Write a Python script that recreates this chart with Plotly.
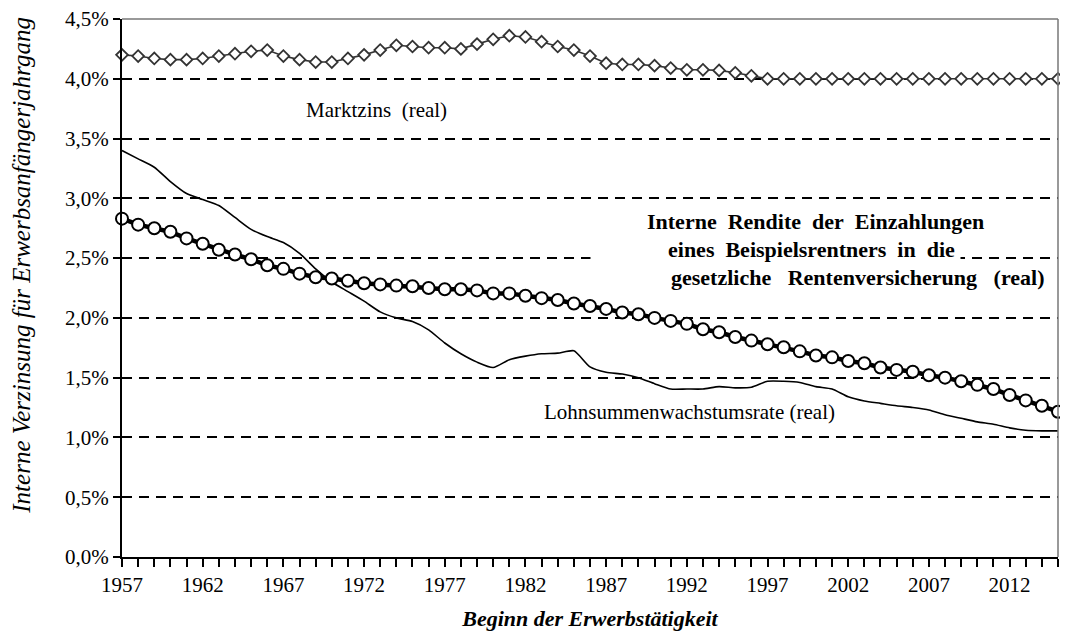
import plotly.graph_objects as go

years = list(range(1957, 2016))

marktzins = [4.20, 4.19, 4.17, 4.16, 4.16, 4.17, 4.19, 4.21, 4.23, 4.24,
             4.19, 4.16, 4.14, 4.14, 4.17, 4.20, 4.24, 4.28, 4.27, 4.26,
             4.26, 4.25, 4.29, 4.33, 4.36, 4.35, 4.31, 4.27, 4.24, 4.19,
             4.13, 4.12, 4.12, 4.11, 4.09, 4.075, 4.075, 4.07, 4.05, 4.025,
             4.00, 4.00, 4.00, 4.00, 4.00, 4.00, 4.00, 4.00, 4.00, 4.00,
             4.00, 4.00, 4.00, 4.00, 4.00, 4.00, 4.00, 4.00, 4.00]

rendite = [2.83, 2.78, 2.75, 2.72, 2.665, 2.62, 2.57, 2.53, 2.49, 2.44,
           2.41, 2.37, 2.34, 2.33, 2.31, 2.29, 2.28, 2.27, 2.265, 2.25,
           2.24, 2.24, 2.23, 2.205, 2.205, 2.185, 2.165, 2.15, 2.12, 2.10,
           2.075, 2.045, 2.03, 2.00, 1.975, 1.95, 1.905, 1.88, 1.84, 1.81,
           1.78, 1.755, 1.72, 1.685, 1.67, 1.64, 1.62, 1.585, 1.565, 1.55,
           1.52, 1.50, 1.47, 1.44, 1.405, 1.355, 1.31, 1.265, 1.215]

lohnsumme = [3.40, 3.33, 3.26, 3.14, 3.04, 2.99, 2.94, 2.84, 2.74, 2.68,
             2.63, 2.54, 2.41, 2.30, 2.22, 2.14, 2.05, 2.00, 1.97, 1.90,
             1.79, 1.70, 1.63, 1.585, 1.65, 1.68, 1.70, 1.705, 1.725, 1.59,
             1.545, 1.53, 1.50, 1.45, 1.405, 1.405, 1.405, 1.425, 1.415, 1.42,
             1.47, 1.47, 1.46, 1.425, 1.405, 1.34, 1.305, 1.285, 1.265, 1.25,
             1.23, 1.19, 1.16, 1.13, 1.11, 1.08, 1.06, 1.055, 1.055]

y_ticks = [0.0, 0.5, 1.0, 1.5, 2.0, 2.5, 3.0, 3.5, 4.0, 4.5]
y_labels = ["0,0%", "0,5%", "1,0%", "1,5%", "2,0%", "2,5%", "3,0%", "3,5%", "4,0%", "4,5%"]
x_label_years = [1957, 1962, 1967, 1972, 1977, 1982, 1987, 1992, 1997, 2002, 2007, 2012]

NB = "\u00a0"
label_markt = "Marktzins" + NB * 2 + "(real)"
label_lohn = "Lohnsummenwachstumsrate (real)"
label_rendite = ["Interne" + NB * 2 + "Rendite" + NB * 2 + "der" + NB * 2 + "Einzahlungen",
                 "eines" + NB * 2 + "Beispielsrentners" + NB * 2 + "in" + NB * 2 + "die",
                 "gesetzliche" + NB * 3 + "Rentenversicherung" + NB * 3 + "(real)"]
y_title = "Interne Verzinsung für Erwerbsanfängerjahrgang"
x_title = "Beginn der Erwerbstätigkeit"

SERIF = "Liberation Serif, Times New Roman, serif"

fig = go.Figure()

fig.add_trace(go.Scatter(
    x=years, y=lohnsumme, mode="lines", name=label_lohn,
    line=dict(color="black", width=1.6, shape="spline", smoothing=0.6),
))
fig.add_trace(go.Scatter(
    x=years, y=rendite, mode="lines+markers", name="Interne Rendite",
    line=dict(color="black", width=4.5),
    marker=dict(symbol="circle", size=12, color="white",
                line=dict(color="black", width=2)),
    cliponaxis=False,
))
fig.add_trace(go.Scatter(
    x=years, y=marktzins, mode="lines+markers", name=label_markt,
    line=dict(color="#333333", width=1.6),
    marker=dict(symbol="diamond", size=9, color="white",
                line=dict(color="#333333", width=1.8)),
    cliponaxis=False,
))

tick_text = [str(y) if y in x_label_years else "" for y in years]

fig.update_xaxes(
    range=[1957, 2015], tickmode="array", tickvals=years, ticktext=tick_text,
    ticks="outside", ticklen=8, tickwidth=1.5, tickcolor="black",
    ticklabelstandoff=0, ticklabeloverflow="allow",
    showline=True, linecolor="black", linewidth=2, showgrid=False, zeroline=False,
    automargin=False,
    tickfont=dict(family=SERIF, size=21, color="black"),
    title=dict(text=x_title, standoff=14,
               font=dict(family=SERIF, size=22, color="black", style="italic", weight="bold")),
)
fig.update_yaxes(
    range=[0, 4.5], tickmode="array", tickvals=y_ticks, ticktext=y_labels,
    ticks="outside", ticklen=7, tickwidth=1.5, tickcolor="black",
    ticklabeloverflow="allow",
    showline=True, linecolor="black", linewidth=2,
    showgrid=True, gridcolor="black", gridwidth=1.6, griddash="10px,7px",
    zeroline=False, automargin=False,
    tickfont=dict(family=SERIF, size=21, color="black"),
)

# gray top and right frame
fig.add_shape(type="line", xref="paper", yref="paper", x0=0, x1=1, y0=1, y1=1,
              line=dict(color="#777777", width=1.5))
fig.add_shape(type="line", xref="paper", yref="paper", x0=1, x1=1, y0=0, y1=1,
              line=dict(color="#777777", width=1.5))

ann_font = dict(family=SERIF, size=21, color="black")
fig.add_annotation(x=1972.8, y=3.74, text=label_markt, showarrow=False,
                   xanchor="center", yanchor="middle", font=ann_font)
fig.add_annotation(x=1983.0, y=1.21, text=label_lohn, showarrow=False,
                   xanchor="left", yanchor="middle", font=ann_font)
bold_font = dict(family=SERIF, size=22, color="black", weight="bold")
fig.add_annotation(x=2000.0, y=2.81, text=label_rendite[0], showarrow=False,
                   xanchor="center", yanchor="middle", font=bold_font)
fig.add_annotation(x=2009.0, y=2.575, text=NB * 14 + label_rendite[1] + NB,
                   showarrow=False, xanchor="right", yanchor="middle",
                   font=bold_font, bgcolor="white", borderpad=0)
fig.add_annotation(x=2002.6, y=2.34, text=label_rendite[2], showarrow=False,
                   xanchor="center", yanchor="middle", font=bold_font)

fig.add_annotation(xref="paper", yref="paper", x=-0.107, y=0.543,
                   text=y_title, textangle=-90, showarrow=False,
                   xanchor="center", yanchor="middle",
                   font=dict(family=SERIF, size=25, color="black", style="italic"))

# page body adds an 8px offset; figure sized so the plot lands at about 122..1058 x 19..557
fig.update_layout(
    width=1060, height=627,
    margin=dict(l=114, r=10, t=11, b=78),
    paper_bgcolor="white", plot_bgcolor="white",
    showlegend=False,
)

fig.write_html("out.html")
